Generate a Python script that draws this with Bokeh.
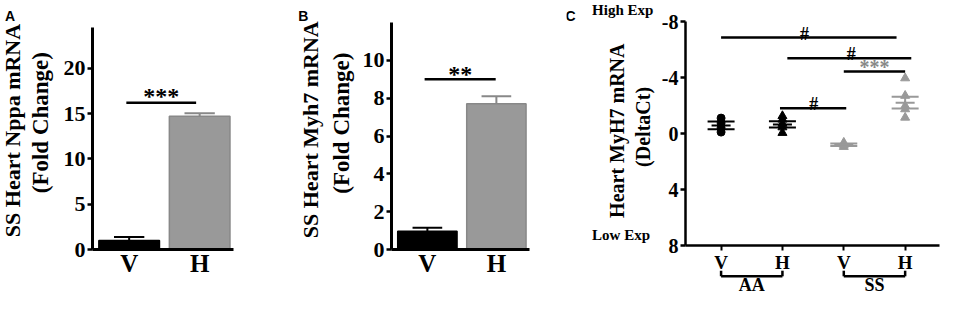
from bokeh.plotting import figure
from bokeh.models import Range1d, FixedTicker, Label
from bokeh.layouts import row
from bokeh.embed import file_html
from bokeh.resources import INLINE

SERIF = "Liberation Serif"
SANS = "Liberation Sans"
BLACK = "#000000"
GRAY = "#999999"
DGRAY = "#888888"
ROT = 1.5707963

# ---------------- data ----------------
# Panel A: SS Heart Nppa mRNA (fold change)
a_groups = ["V", "H"]
a_means = [1.0, 14.7]
a_sem = [0.37, 0.35]
a_ticks = [0, 5, 10, 15, 20]
a_sig_text = "***"
a_sig_x0, a_sig_x1, a_sig_y = 0.96, 1.95, 16.2

# Panel B: SS Heart Myh7 mRNA (fold change)
b_groups = ["V", "H"]
b_means = [0.97, 7.7]
b_sem = [0.18, 0.40]
b_ticks = [0, 2, 4, 6, 8, 10]
b_sig_text = "**"
b_sig_x0, b_sig_x1, b_sig_y = 0.96, 1.99, 9.0

# Panel C: Heart MyH7 mRNA (DeltaCt), individual animals
c_groups = ["V", "H", "V", "H"]
c_strains = ["AA", "SS"]
c_aa_v = [-1.1, -0.75, -0.4, -0.1]
c_aa_h = [-1.25, -1.0, -0.7, -0.45, -0.05]
c_ss_v = [0.65, 0.8, 0.95]
c_ss_h = [-3.95, -2.7, -1.97, -1.74, -1.14]
c_means = [-0.58, -0.65, 0.8, -2.2]
c_sem = [0.28, 0.22, 0.09, 0.42]
c_ticks = [-8, -4, 0, 4, 8]
c_sig_text = ["#", "#", "***", "#"]
c_sig_x0 = [1.0, 2.08, 3.0, 1.96]
c_sig_x1 = [3.86, 4.1, 4.0, 3.04]
c_sig_y = [-6.85, -5.37, -4.43, -1.81]
c_sig_tx = [2.36, 3.12, 3.5, 2.51]
c_sig_ty = [-7.11, -5.67, -4.73, -2.08]

FIG_H = 296


def make_fig(w, frame, xdata, ydata):
    """frame = (left, right, top, bottom) pixel box of the data area inside
    the figure; xdata=(left value, right value), ydata=(top value, bottom value).
    The plotting frame fills the whole figure; axes are pinned with fixed_location."""
    l, r, t, b = frame
    x0, x1 = xdata
    yt, yb = ydata
    sx = (x1 - x0) / (r - l)
    sy = (yb - yt) / (b - t)
    xr = Range1d(x0 - l * sx, x0 + (w - l) * sx)
    yr = Range1d(yt + (FIG_H - t) * sy, yt - t * sy)
    p = figure(width=w, height=FIG_H, x_range=xr, y_range=yr,
               output_backend="svg", toolbar_location=None,
               min_border_left=0, min_border_right=0,
               min_border_top=0, min_border_bottom=0)
    p.outline_line_color = None
    p.grid.visible = False
    for ax in (p.xaxis, p.yaxis):
        ax.axis_line_color = BLACK
        ax.major_tick_line_color = BLACK
        ax.minor_tick_line_color = None
        ax.major_label_text_font = SERIF
        ax.major_label_text_font_style = "bold"
        ax.major_label_text_color = BLACK
    p.yaxis.fixed_location = x0
    p.yaxis.bounds = (min(yt, yb), max(yt, yb))
    p.xaxis.fixed_location = yb
    p.xaxis.bounds = (x0, x1)
    return p


def lab(p, x, y, text, size, font=SERIF, style="bold", align="left",
        baseline="alphabetic", angle=0.0, color=BLACK):
    p.add_layout(Label(x=x, y=y, text=text, text_font=font,
                       text_font_style=style, text_font_size=f"{size}px",
                       text_align=align, text_baseline=baseline,
                       angle=angle, text_color=color))


def bar_panel(w, frame, groups, means, sem, ticks, ymax, sig, lift):
    p = make_fig(w, frame, (0.48, 2.48), (ymax, 0))
    xs = [1, 2]
    cols = [BLACK, GRAY]
    lcols = [BLACK, DGRAY]
    tops = [m + e for m, e in zip(means, sem)]
    p.segment(x0=xs, y0=means, x1=xs, y1=tops, line_color=lcols, line_width=2)
    p.segment(x0=[x - 0.215 for x in xs], y0=tops, x1=[x + 0.215 for x in xs],
              y1=tops, line_color=lcols, line_width=2)
    p.vbar(x=xs, top=means, bottom=0, width=0.86, fill_color=cols,
           line_color=lcols, line_width=1.5)
    text, x0, x1, y = sig
    p.segment(x0=[x0], y0=[y], x1=[x1], y1=[y], line_color=BLACK, line_width=2.5)
    lab(p, (x0 + x1) / 2, y + lift, text, 24, align="center")
    p.xaxis.ticker = FixedTicker(ticks=xs)
    p.xaxis.major_label_overrides = {1: groups[0], 2: groups[1]}
    p.xaxis.major_tick_line_color = None
    p.xaxis.major_tick_out = 0
    p.xaxis.major_label_standoff = 0
    p.xaxis.major_label_text_font_size = "25px"
    p.xaxis.axis_line_width = 3
    p.yaxis.ticker = FixedTicker(ticks=ticks)
    p.yaxis.axis_line_width = 3
    p.yaxis.major_tick_line_width = 2.5
    p.yaxis.major_tick_out = 5
    p.yaxis.major_tick_in = 0
    p.yaxis.major_label_standoff = 2
    p.yaxis.major_label_text_font_size = "22px"
    return p


# ---------- Panel A ----------
pA = bar_panel(296, (92, 233, 27, 249), a_groups, a_means, a_sem, a_ticks, 24.5,
               (a_sig_text, a_sig_x0, a_sig_x1, a_sig_y), 0.7)
lab(pA, -0.762, 26.6, "A", 14, font=SANS, baseline="top")
lab(pA, -0.648, 13.13, "SS Heart Nppa mRNA", 22, align="center", baseline="middle", angle=ROT)
lab(pA, -0.255, 14.0, "(Fold Change)", 23, align="center", baseline="middle", angle=ROT)

# ---------- Panel B ----------
pB = bar_panel(270, (95, 233, 22, 249), b_groups, b_means, b_sem, b_ticks, 12.0,
               (b_sig_text, b_sig_x0, b_sig_x1, b_sig_y), 0.3)
lab(pB, -0.871, 12.76, "B", 14, font=SANS, baseline="top")
lab(pB, -0.700, 6.33, "SS Heart Myh7 mRNA", 22, align="center", baseline="middle", angle=ROT)
lab(pB, -0.243, 6.68, "(Fold Change)", 23, align="center", baseline="middle", angle=ROT)

# ---------- Panel C ----------
pC = make_fig(375, (119, 373, 21, 245), (0.42, 4.56), (-8, 8))
c_pts = [c_aa_v, c_aa_h, c_ss_v, c_ss_h]
c_col = [BLACK, BLACK, GRAY, GRAY]
c_mark = ["circle", "triangle", "triangle", "triangle"]
for i, (pts, col, mk) in enumerate(zip(c_pts, c_col, c_mark)):
    x = i + 1
    m, e = c_means[i], c_sem[i]
    pC.scatter(x=[x] * len(pts), y=pts, marker=mk, size=9 if mk == "triangle" else 8,
               fill_color=col, line_color=col)
    pC.segment(x0=[x], y0=[m - e], x1=[x], y1=[m + e], line_color=col, line_width=2)
    pC.segment(x0=[x - 0.22, x - 0.22], y0=[m - e, m + e],
               x1=[x + 0.22, x + 0.22], y1=[m - e, m + e],
               line_color=col, line_width=2)
    pC.segment(x0=[x - 0.155], y0=[m], x1=[x + 0.155], y1=[m],
               line_color=col, line_width=2)

pC.segment(x0=c_sig_x0, y0=c_sig_y, x1=c_sig_x1, y1=c_sig_y,
           line_color=BLACK, line_width=2.5)
for t, tx, ty in zip(c_sig_text, c_sig_tx, c_sig_ty):
    lab(pC, tx, ty, t, 20 if t == "***" else 18, align="center",
        color=DGRAY if t == "***" else BLACK)

pC.xaxis.ticker = FixedTicker(ticks=[1, 2, 3, 4])
pC.xaxis.major_label_overrides = {1: c_groups[0], 2: c_groups[1],
                                  3: c_groups[2], 4: c_groups[3]}
pC.xaxis.major_tick_out = 5
pC.xaxis.major_tick_in = 0
pC.xaxis.major_tick_line_width = 2
pC.xaxis.major_label_standoff = 1
pC.xaxis.major_label_text_font_size = "19px"
pC.xaxis.axis_line_width = 2.5
pC.yaxis.ticker = FixedTicker(ticks=c_ticks)
pC.yaxis.major_label_overrides = {v: str(v) for v in c_ticks}
pC.yaxis.axis_line_width = 2.5
pC.yaxis.major_tick_line_width = 2.5
pC.yaxis.major_tick_out = 5
pC.yaxis.major_tick_in = 0
pC.yaxis.major_label_standoff = 2
pC.yaxis.major_label_text_font_size = "20px"

# strain brackets below the x axis
for k, strain in enumerate(c_strains):
    xa, xb = 2 * k + 1, 2 * k + 2
    pC.segment(x0=[xa, xa, xb], y0=[9.8, 10.2, 10.2], x1=[xa, xb, xb], y1=[10.2, 10.2, 9.8],
               line_color=BLACK, line_width=2.5)
    lab(pC, (xa + xb) / 2, 10.85, strain, 18, align="center", baseline="middle")

lab(pC, -1.536, -8.93, "C", 14, font=SANS, baseline="top")
lab(pC, -1.103, -8.79, "High Exp", 15, baseline="middle")
lab(pC, -1.103, 7.25, "Low Exp", 15, baseline="middle")
lab(pC, -0.70, -0.2, "Heart MyH7 mRNA", 20, align="center", baseline="middle", angle=ROT)
lab(pC, -0.266, -0.47, "(DeltaCt)", 20, align="center", baseline="middle", angle=ROT)

layout = row(pA, pB, pC, spacing=0)
open("out.html", "w").write(file_html(layout, INLINE))
